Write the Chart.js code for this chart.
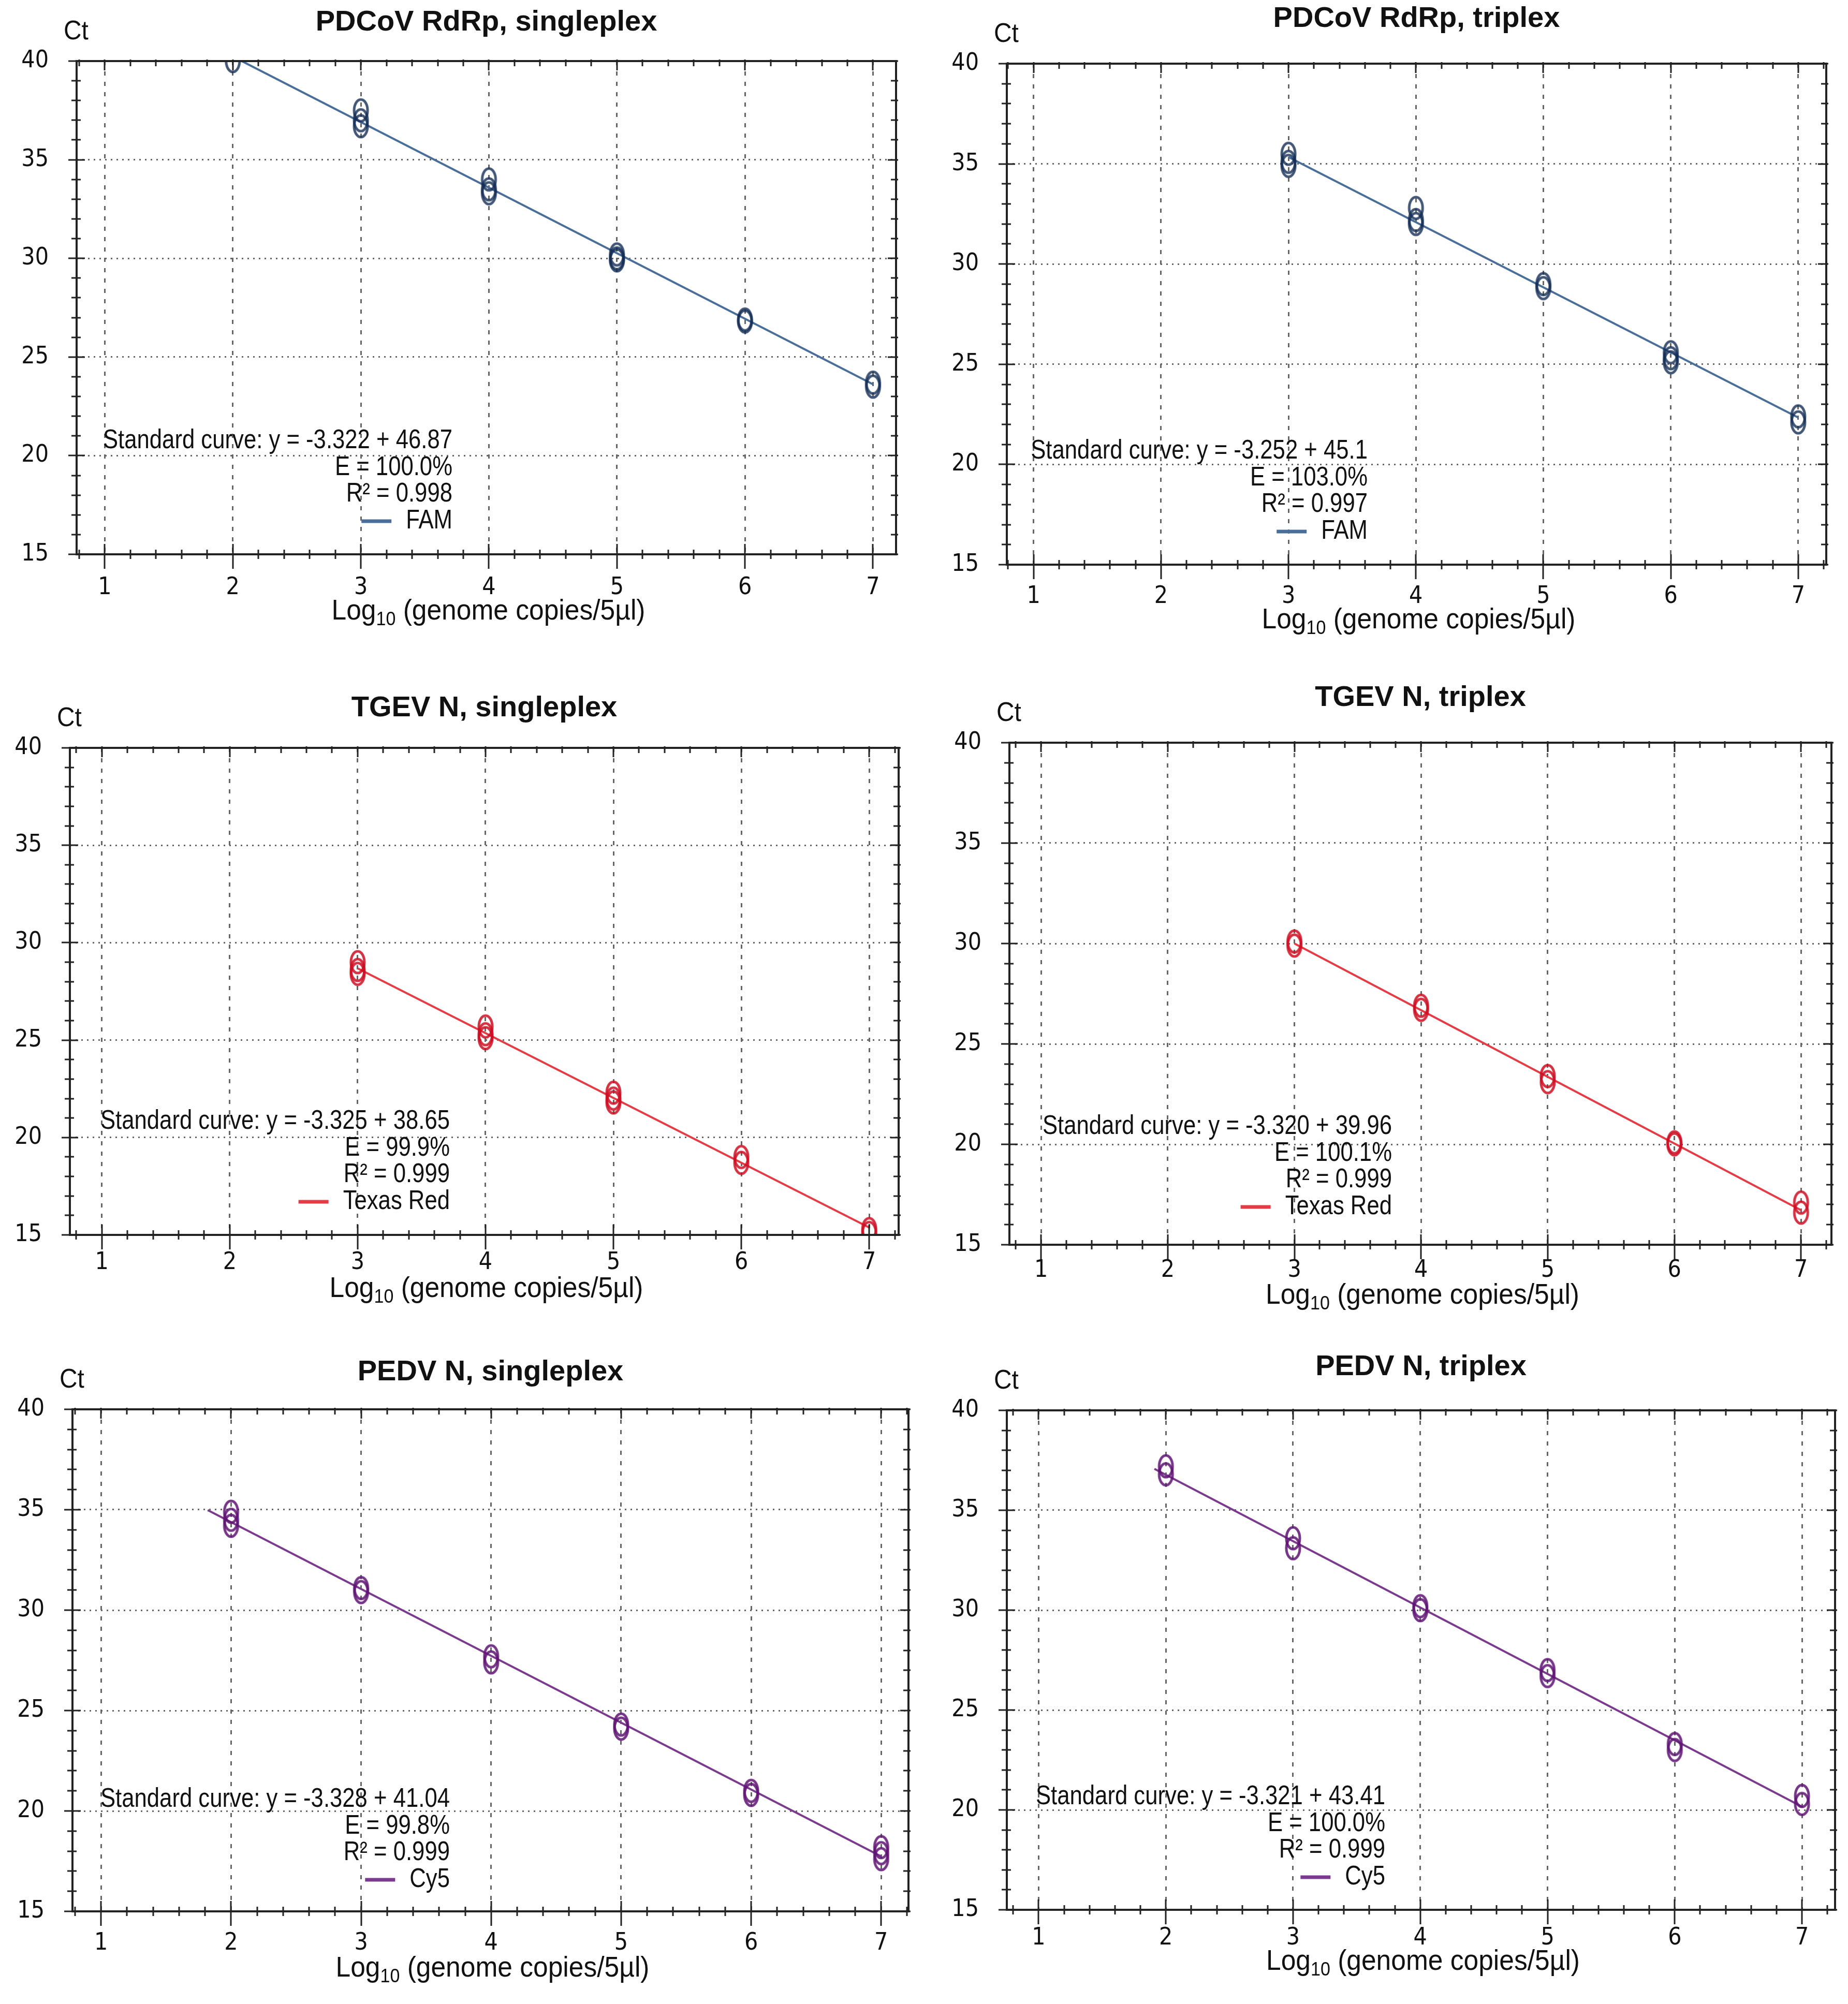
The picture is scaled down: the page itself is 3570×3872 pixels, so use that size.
<!DOCTYPE html>
<html>
<head>
<meta charset="utf-8">
<script src="https://cdn.jsdelivr.net/npm/chart.js@4.4.1/dist/chart.umd.min.js"></script>
<style>
  body { margin: 0; background: #fff; width: 3570px; height: 3872px; position: relative; overflow: hidden; }
  canvas { position: absolute; }
</style>
</head>
<body>
<script>
// ---- data ----
const titles = ['PDCoV RdRp, singleplex', 'PDCoV RdRp, triplex', 'TGEV N, singleplex',
                'TGEV N, triplex', 'PEDV N, singleplex', 'PEDV N, triplex'];
const curveText = ['Standard curve: y = -3.322 + 46.87', 'Standard curve: y = -3.252 + 45.1',
                   'Standard curve: y = -3.325 + 38.65', 'Standard curve: y = -3.320 + 39.96',
                   'Standard curve: y = -3.328 + 41.04', 'Standard curve: y = -3.321 + 43.41'];
const effText = ['E = 100.0%', 'E = 103.0%', 'E = 99.9%', 'E = 100.1%', 'E = 99.8%', 'E = 100.0%'];
const r2Text = ['R\u00b2 = 0.998', 'R\u00b2 = 0.997', 'R\u00b2 = 0.999', 'R\u00b2 = 0.999', 'R\u00b2 = 0.999', 'R\u00b2 = 0.999'];
const dyes = ['FAM', 'FAM', 'Texas Red', 'Texas Red', 'Cy5', 'Cy5'];
const xTickValues = [1, 2, 3, 4, 5, 6, 7];
const yTickValues = [15, 20, 25, 30, 35, 40];

// replicate points: log10 copies and Ct
const pdcovSingleX = [2, 3, 3, 3, 4, 4, 4, 5, 5, 5, 6, 6, 7, 7];
const pdcovSingleCt = [40.0, 37.5, 37.0, 36.7, 34.0, 33.5, 33.3, 30.2, 30.0, 29.9, 26.9, 26.8, 23.7, 23.5];
const pdcovTriX = [3, 3, 3, 4, 4, 4, 5, 5, 6, 6, 6, 7, 7];
const pdcovTriCt = [35.5, 35.1, 34.9, 32.8, 32.2, 32.0, 29.0, 28.8, 25.6, 25.3, 25.1, 22.4, 22.1];
const tgevSingleX = [3, 3, 3, 4, 4, 4, 5, 5, 5, 6, 6, 7, 7];
const tgevSingleCt = [29.0, 28.6, 28.4, 25.7, 25.3, 25.1, 22.3, 22.0, 21.8, 19.0, 18.7, 15.3, 15.1];
const tgevTriX = [3, 3, 4, 4, 5, 5, 6, 6, 7, 7];
const tgevTriCt = [30.1, 29.9, 26.9, 26.7, 23.4, 23.1, 20.1, 20.0, 17.1, 16.6];
const pedvSingleX = [2, 2, 2, 3, 3, 4, 4, 5, 5, 6, 6, 7, 7, 7];
const pedvSingleCt = [34.9, 34.5, 34.2, 31.1, 30.9, 27.7, 27.4, 24.3, 24.1, 21.0, 20.8, 18.2, 17.9, 17.6];
const pedvTriX = [2, 2, 3, 3, 4, 4, 5, 5, 6, 6, 7, 7];
const pedvTriCt = [37.2, 36.8, 33.6, 33.1, 30.2, 30.0, 27.0, 26.7, 23.3, 23.0, 20.7, 20.3];

// fitted line end points (x, Ct)
const fitX = [[2, 7], [3, 7], [3, 7], [3, 7], [1.82, 7], [1.91, 7]];
const fitCt = [[40.23, 23.62], [35.34, 22.34], [28.68, 15.38], [30.00, 16.72], [34.98, 17.74], [37.07, 20.16]];

const pointX = [pdcovSingleX, pdcovTriX, tgevSingleX, tgevTriX, pedvSingleX, pedvTriX];
const pointCt = [pdcovSingleCt, pdcovTriCt, tgevSingleCt, tgevTriCt, pedvSingleCt, pedvTriCt];

// ---- layout / style ----
const SANS = "'Liberation Sans', Arial, sans-serif";
const TICKFONT = "'DejaVu Sans Condensed', 'Liberation Sans', sans-serif";
const lineColors = ['#4a6e9a', '#4a6e9a', '#e63b45', '#e63b45', '#7c3a8e', '#7c3a8e'];
const markColors = ['rgba(20,45,85,0.8)', 'rgba(20,45,85,0.8)', 'rgba(205,15,35,0.85)',
                    'rgba(205,15,35,0.85)', 'rgba(95,20,115,0.85)', 'rgba(95,20,115,0.85)'];
// chart area [left, top, right, bottom] in page pixels and x range
const boxes = [[148, 118, 1731, 1071], [1945, 123, 3528, 1091], [135, 1445, 1736, 2386],
               [1950, 1435, 3538, 2405], [140, 2723, 1755, 3693], [1945, 2725, 3545, 3690]];
const xRanges = [[0.78, 7.18], [0.79, 7.22], [0.75, 7.23], [0.75, 7.24], [0.78, 7.21], [0.75, 7.26]];
const titleDy = [74, 86, 76, 86, 71, 83];
const textRight = [726, 697, 734, 739, 729, 731];
const textBottom = [219, 219, 219, 228, 216, 218];
const xLabelPad = [37, 34, 26, 22, 34, 27];
const xTitleDy = [111, 108, 105, 99, 111, 101];

const PAD_L = 200, PAD_T = 130, PAD_R = 60, PAD_B = 180;
const SQ_NOTE = 0.84;   // condensed look of the original narrow font
const SQ_AXIS = 0.92;

function ellipseMarker(color) {
  const c = document.createElement('canvas');
  c.width = 40; c.height = 54;
  const g = c.getContext('2d');
  g.strokeStyle = color;
  g.lineWidth = 5;
  g.beginPath();
  g.ellipse(20, 27, 13, 21, 0, 0, Math.PI * 2);
  g.stroke();
  return c;
}

// text squeezed horizontally; returns drawn width
function narrowText(ctx, text, x, y, align, font, sq) {
  ctx.save();
  ctx.font = font;
  const w = ctx.measureText(text).width * sq;
  let left = x;
  if (align === 'right') left = x - w;
  else if (align === 'center') left = x - w / 2;
  ctx.translate(left, y);
  ctx.scale(sq, 1);
  ctx.textAlign = 'left';
  ctx.fillText(text, 0, 0);
  ctx.restore();
  return w;
}
function narrowWidth(ctx, text, font, sq) {
  ctx.save();
  ctx.font = font;
  const w = ctx.measureText(text).width * sq;
  ctx.restore();
  return w;
}

// frame, ticks and all the free text of a panel
const panelDecor = {
  id: 'panelDecor',
  afterDatasetsDraw(chart) {
    const ctx = chart.ctx;
    const a = chart.chartArea;
    const xs = chart.scales.x, ys = chart.scales.y;
    ctx.save();
    ctx.strokeStyle = '#222';
    ctx.lineWidth = 4;
    ctx.strokeRect(a.left, a.top, a.right - a.left, a.bottom - a.top);
    ctx.lineWidth = 3;
    ctx.beginPath();
    for (let v = Math.ceil(xs.min * 5) / 5; v <= xs.max + 1e-9; v += 0.2) {
      const px = Math.round(xs.getPixelForValue(v));
      const major = Math.abs(v - Math.round(v)) < 1e-6;
      ctx.moveTo(px, a.bottom - (major ? 20 : 9));
      ctx.lineTo(px, a.bottom + (major ? 28 : 9));
      ctx.moveTo(px, a.top - 3);
      ctx.lineTo(px, a.top + (major ? 18 : 10));
    }
    for (let v = ys.min; v <= ys.max; v += 1) {
      const py = Math.round(ys.getPixelForValue(v));
      const major = v % 5 === 0;
      ctx.moveTo(a.left - (major ? 16 : 10), py);
      ctx.lineTo(a.left + (major ? 16 : 8), py);
      ctx.moveTo(a.right - (major ? 16 : 10), py);
      ctx.lineTo(a.right + 4, py);
    }
    ctx.stroke();
    ctx.restore();
  },
  afterDraw(chart, args, opts) {
    const ctx = chart.ctx;
    const a = chart.chartArea;
    const i = opts.index;
    const cx = (a.left + a.right) / 2;
    ctx.save();
    ctx.fillStyle = '#111';
    ctx.textBaseline = 'middle';

    // title
    ctx.font = 'bold 56px ' + SANS;
    ctx.textAlign = 'center';
    ctx.fillText(titles[i], cx, a.top - titleDy[i]);

    // Ct
    narrowText(ctx, 'Ct', a.left - 25, a.top - 56, 'left', '52px ' + SANS, SQ_AXIS);

    // x axis title with subscript
    const y0 = a.bottom + xTitleDy[i];
    const main = '56px ' + SANS, sub = '37px ' + SANS;
    const rest = ' (genome copies/5\u00b5l)';
    const w1 = narrowWidth(ctx, 'Log', main, SQ_AXIS);
    const w2 = narrowWidth(ctx, '10', sub, SQ_AXIS);
    const w3 = narrowWidth(ctx, rest, main, SQ_AXIS);
    const x0 = cx + 4 - (w1 + w2 + w3) / 2;
    narrowText(ctx, 'Log', x0, y0, 'left', main, SQ_AXIS);
    narrowText(ctx, '10', x0 + w1, y0 + 16, 'left', sub, SQ_AXIS);
    narrowText(ctx, rest, x0 + w1 + w2, y0, 'left', main, SQ_AXIS);

    // standard curve annotation
    const rx = a.left + textRight[i];
    const by = a.bottom - textBottom[i];
    const f = '52px ' + SANS;
    narrowText(ctx, curveText[i], rx, by, 'right', f, SQ_NOTE);
    narrowText(ctx, effText[i], rx, by + 52, 'right', f, SQ_NOTE);
    narrowText(ctx, r2Text[i], rx, by + 103, 'right', f, SQ_NOTE);
    const dw = narrowText(ctx, dyes[i], rx, by + 155, 'right', f, SQ_NOTE);
    ctx.strokeStyle = lineColors[i];
    ctx.lineWidth = 7;
    ctx.beginPath();
    ctx.moveTo(rx - dw - 86, by + 155);
    ctx.lineTo(rx - dw - 28, by + 155);
    ctx.stroke();
    ctx.restore();
  }
};

function makePanel(i) {
  const [L, T, R, B] = boxes[i];
  const canvas = document.createElement('canvas');
  const w = R - L + PAD_L + PAD_R, h = B - T + PAD_T + PAD_B;
  canvas.width = w; canvas.height = h;
  canvas.style.left = (L - PAD_L) + 'px';
  canvas.style.top = (T - PAD_T) + 'px';
  canvas.style.width = w + 'px';
  canvas.style.height = h + 'px';
  document.body.appendChild(canvas);

  const pts = pointX[i].map((x, k) => ({ x: x, y: pointCt[i][k] }));
  const fit = fitX[i].map((x, k) => ({ x: x, y: fitCt[i][k] }));

  new Chart(canvas.getContext('2d'), {
    type: 'scatter',
    data: {
      datasets: [{
        type: 'line',
        data: fit,
        borderColor: lineColors[i],
        borderWidth: 4,
        pointRadius: 0,
        fill: false,
        clip: 0,
        order: 2
      }, {
        data: pts,
        pointStyle: ellipseMarker(markColors[i]),
        pointRadius: 20,
        clip: 0,
        order: 1
      }]
    },
    options: {
      responsive: false,
      animation: false,
      devicePixelRatio: 1,
      layout: { padding: { top: PAD_T, right: PAD_R, left: 0, bottom: 0 } },
      plugins: {
        legend: { display: false },
        tooltip: { enabled: false },
        title: { display: false },
        panelDecor: { index: i }
      },
      scales: {
        x: {
          type: 'linear',
          min: xRanges[i][0],
          max: xRanges[i][1],
          afterBuildTicks: s => { s.ticks = xTickValues.map(v => ({ value: v })); },
          afterFit: s => { s.height = PAD_B; },
          ticks: {
            autoSkip: false,
            maxRotation: 0,
            padding: xLabelPad[i],
            color: '#111',
            font: { family: TICKFONT, size: 46 }
          },
          grid: { color: '#666', lineWidth: 3, drawTicks: false },
          border: { display: false, dash: [8, 12] }
        },
        y: {
          min: 15,
          max: 40,
          afterBuildTicks: s => { s.ticks = yTickValues.map(v => ({ value: v })); },
          afterFit: s => { s.width = PAD_L; },
          ticks: {
            padding: 54,
            color: '#111',
            font: { family: TICKFONT, size: 46 }
          },
          grid: { color: '#666', lineWidth: 3, drawTicks: false },
          border: { display: false, dash: [3, 8] }
        }
      }
    },
    plugins: [panelDecor]
  });
}

for (let i = 0; i < 6; i++) makePanel(i);
</script>
</body>
</html>
